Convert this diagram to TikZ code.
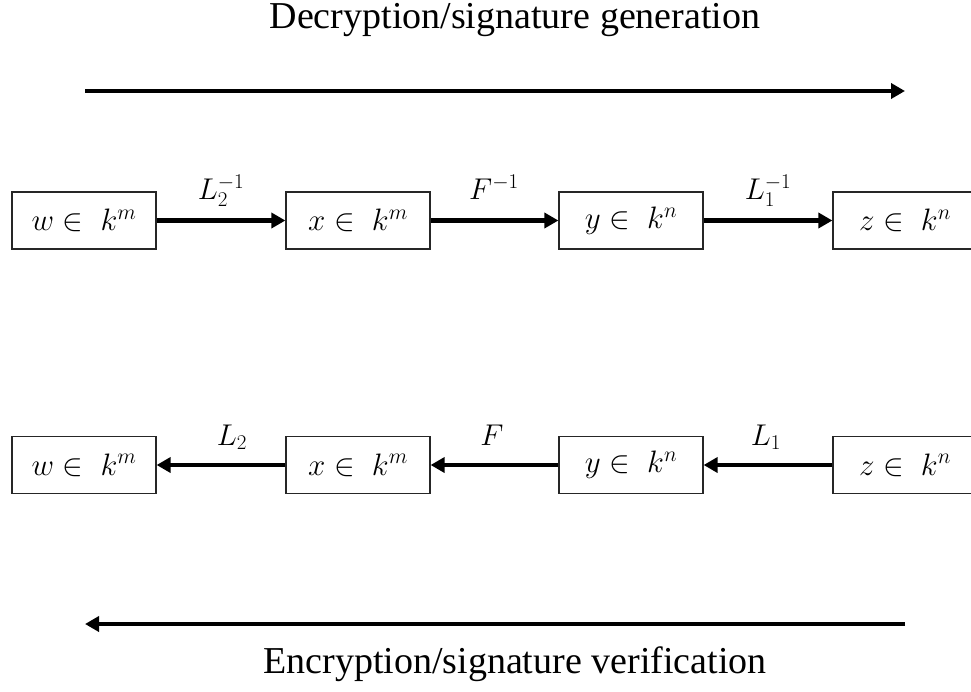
\documentclass[tikz,border=0pt]{standalone}
\usepackage{fix-cm}
\usepackage{fontspec}
\setmainfont{Liberation Serif}
\usetikzlibrary{arrows.meta}

\tikzset{
  setbox/.style={draw=black!85, line width=1.2pt, minimum width=144pt, minimum height=57pt,
                 inner sep=0pt, font=\fontsize{31}{36}\selectfont},
  maparrow/.style={line width=4.5pt, -{Triangle[length=14pt,width=15pt]}},
  maplabel/.style={font=\fontsize{30}{34}\selectfont, anchor=base},
  caption/.style={font=\fontsize{38}{42}\selectfont, anchor=base}
}

\begin{document}
\begin{tikzpicture}[x=1pt,y=-1pt]
  \useasboundingbox (0,0) rectangle (971,691);

  % direction captions and long arrows
  \node[caption] (dec) at (515,28) {Decryption/signature generation};
  \coordinate (decL) at (85,91);
  \coordinate (decR) at (905,91);
  \draw[maparrow] (decL) -- (decR);

  \coordinate (encR) at (905,624);
  \coordinate (encL) at (85,624);
  \draw[maparrow] (encR) -- (encL);
  \node[caption] (enc) at (515,673) {Encryption/signature verification};

  % the eight sets; the rightmost boxes run past the edge
  \begin{scope}
    \clip (0,0) rectangle (971,691);
    \node[setbox] (w1) at (84,220.5)  {$w \in\; k^m$};
    \node[setbox] (x1) at (358,220.5) {$x \in\; k^m$};
    \node[setbox] (y1) at (631,220.5) {$y \in\; k^n$};
    \node[setbox] (z1) at (905,220.5) {$z \in\; k^n$};

    \node[setbox] (w2) at (84,465)  {$w \in\; k^m$};
    \node[setbox] (x2) at (358,465) {$x \in\; k^m$};
    \node[setbox] (y2) at (631,465) {$y \in\; k^n$};
    \node[setbox] (z2) at (905,465) {$z \in\; k^n$};
  \end{scope}

  % upper chain: inverse maps
  \draw[maparrow] (w1) -- (x1);
  \draw[maparrow] (x1) -- (y1);
  \draw[maparrow] (y1) -- (z1);
  \node[maplabel] (l1) at (221,199) {$L_2^{-1}$};
  \node[maplabel] (l2) at (494,199) {$F^{-1}$};
  \node[maplabel] (l3) at (768,199) {$L_1^{-1}$};

  % lower chain: forward maps
  \draw[maparrow] (z2) -- (y2);
  \draw[maparrow] (y2) -- (x2);
  \draw[maparrow] (x2) -- (w2);
  \node[maplabel] (m1) at (232,445) {$L_2$};
  \node[maplabel] (m2) at (492,445) {$F$};
  \node[maplabel] (m3) at (766,445) {$L_1$};
\end{tikzpicture}
\end{document}
